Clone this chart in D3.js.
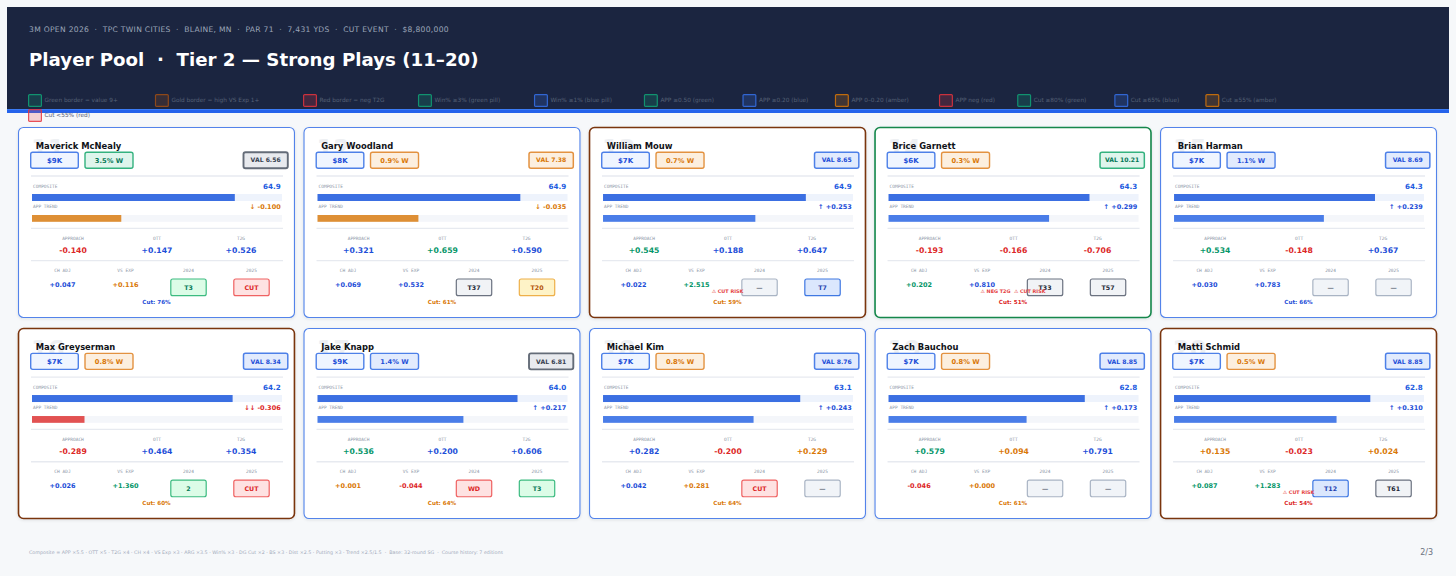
<!DOCTYPE html>
<html><head><meta charset="utf-8">
<script src="https://cdnjs.cloudflare.com/ajax/libs/d3/7.8.5/d3.min.js"></script>
<style>
html,body{margin:0;padding:0;background:#f6f8fa;}
svg{display:block;font-family:"DejaVu Sans",sans-serif;}
.mono{font-family:"DejaVu Sans Mono",monospace;}
</style>
</head><body><svg id="c" width="1456" height="576"></svg>
<script>
// ---------------- DATA ----------------
const eventInfo = "3M OPEN 2026  ·  TPC TWIN CITIES  ·  BLAINE, MN  ·  PAR 71  ·  7,431 YDS  ·  CUT EVENT  ·  $8,800,000";
const pageTitle = "Player Pool  ·  Tier 2 — Strong Plays (11–20)";
const legendLabels = ["Green border = value 9+","Gold border = high VS Exp 1+","Red border = neg T2G","Win% ≥3% (green pill)","Win% ≥1% (blue pill)","APP ≥0.50 (green)","APP ≥0.20 (blue)","APP 0–0.20 (amber)","APP neg (red)","Cut ≥80% (green)","Cut ≥65% (blue)","Cut ≥55% (amber)","Cut <55% (red)"];
const legendTones = ["green","gold","red","green","blue","green","blue","amber","red","green","blue","amber","red"];
const footerText = "Composite = APP ×5.5 · OTT ×5 · T2G ×4 · CH ×4 · VS Exp ×3 · ARG ×3.5 · Win% ×3 · DG Cut ×2 · BS ×3 · Dist ×2.5 · Putting ×3 · Trend ×2.5/1.5  ·  Base: 32-round SG  ·  Course history: 7 editions";
const pageLabel = "2/3";

const ranks    = [11,12,13,14,15,16,17,18,19,20];
const names    = ["Maverick McNealy","Gary Woodland","William Mouw","Brice Garnett","Brian Harman","Max Greyserman","Jake Knapp","Michael Kim","Zach Bauchou","Matti Schmid"];
const salaries = ["$9K","$8K","$7K","$6K","$7K","$7K","$9K","$7K","$7K","$7K"];
const winPct   = [3.5,0.9,0.7,0.3,1.1,0.8,1.4,0.8,0.8,0.5];
const values   = [6.56,7.38,8.65,10.21,8.69,8.34,6.81,8.76,8.85,8.85];
const composite= [64.9,64.9,64.9,64.3,64.3,64.2,64.0,63.1,62.8,62.8];
const appTrend = [-0.100,-0.035,0.253,0.299,0.239,-0.306,0.217,0.243,0.173,0.310];
const approach = [-0.140,0.321,0.545,-0.193,0.534,-0.289,0.536,0.282,0.579,0.135];
const ott      = [0.147,0.659,0.188,-0.166,-0.148,0.464,0.200,-0.200,0.094,-0.023];
const t2g      = [0.526,0.590,0.647,-0.706,0.367,0.354,0.606,0.229,0.791,0.024];
const chAdj    = [0.047,0.069,0.022,0.202,0.030,0.026,0.001,0.042,-0.046,0.087];
const vsExp    = [0.116,0.532,2.515,0.810,0.783,1.360,-0.044,0.281,0.000,1.283];
const fin2024  = ["T3","T37","—","T33","—","2","WD","CUT","—","T12"];
const fin2025  = ["CUT","T20","T7","T57","—","CUT","T3","—","—","T61"];
const cutPct   = [76,61,59,51,66,60,64,64,61,54];
const statLabels = ["APPROACH","OTT","T2G"];
const histLabels = ["CH ADJ","VS EXP","2024","2025"];

// ---------------- STYLE ----------------
const TXT = {green:"#059669", blue:"#1d4ed8", amber:"#d97706", red:"#dc2626", gray:"#374151"};
const PILL = {
  green:{fill:"#dff5ec",stroke:"#34b27f",text:"#047857"},
  blue:{fill:"#e2ebfd",stroke:"#4d80e8",text:"#1d4ed8"},
  amber:{fill:"#fcefdf",stroke:"#e39240",text:"#d97706"},
  gray:{fill:"#e8eaee",stroke:"#646c78",text:"#374151"},
  money:{fill:"#eff5ff",stroke:"#4d80e8",text:"#1d4ed8"}
};
const BOX = {
  green:{fill:"#dcfce7",stroke:"#3cbb80",text:"#047857"},
  blue:{fill:"#dbe7fd",stroke:"#3f78e2",text:"#1e40af"},
  amber:{fill:"#fef3c7",stroke:"#eeb04a",text:"#b45309"},
  gray:{fill:"#f1f3f6",stroke:"#6b7280",text:"#1f2937"},
  red:{fill:"#fee2e2",stroke:"#ef6262",text:"#dc2626"},
  none:{fill:"#f1f4f8",stroke:"#a9b4c4",text:"#6b7280"}
};
const LEG = {green:"#10a377", gold:"#a04e14", red:"#e5343d", blue:"#3571ea", amber:"#d97706"};
const BORDER = {green:"#15874b", gold:"#7a3510", red:"#dc2626", blue:"#5283ea"};

const tier = (v, g, b) => v >= g ? "green" : v >= b ? "blue" : v >= 0 ? "amber" : "red";
const statTiers = [v=>tier(v,0.5,0.2), v=>tier(v,0.5,0.1), v=>tier(v,1.0,0.3)];
const histTiers = [v=>tier(v,0.08,0.02), v=>tier(v,1.0,0.5)];
const winTier = v => v>=3 ? "green" : v>=1 ? "blue" : "amber";
const valTier = v => v>=9 ? "green" : v>=8 ? "blue" : v>=7 ? "amber" : "gray";
const cutTier = v => v>=80 ? "green" : v>=65 ? "blue" : v>=55 ? "amber" : "red";
const trendTier = v => v < -0.2 ? "red" : v < 0 ? "amber" : "blue";
const trendArrow = v => v < -0.2 ? "↓↓" : v < 0 ? "↓" : "↑";
function finTier(f){
  if (f === "—") return "none";
  if (f === "CUT" || f === "WD") return "red";
  const n = +f.replace("T","");
  return n <= 5 ? "green" : n <= 15 ? "blue" : n <= 25 ? "amber" : "gray";
}
function borderTier(i){
  if (values[i] >= 9) return "green";
  if (vsExp[i] >= 1) return "gold";
  if (t2g[i] < 0) return "red";
  return "blue";
}
const loc = d3.formatLocale({decimal:".",thousands:",",grouping:[3],currency:["$",""],minus:"-"});
const f3 = loc.format("+.3f"), f1 = loc.format(".1f");

// ---------------- DRAW ----------------
const svg = d3.select("#c");
const defs = svg.append("defs");
const sh = defs.append("filter").attr("id","sh").attr("x","-5%").attr("y","-5%").attr("width","110%").attr("height","115%");
sh.append("feDropShadow").attr("dx",0).attr("dy",1).attr("stdDeviation",1.4).attr("flood-color","#1e293b").attr("flood-opacity",0.10);

svg.append("rect").attr("width",1456).attr("height",576).attr("fill","#f6f8fa");

// header
svg.append("rect").attr("x",7).attr("y",7).attr("width",1442).attr("height",104).attr("fill","#1b2540");
svg.append("rect").attr("x",7).attr("y",109).attr("width",1442).attr("height",4).attr("fill","#2563eb");
svg.append("rect").attr("x",7).attr("y",109).attr("width",1442).attr("height",1).attr("fill","#3b7bf5");
svg.append("text").attr("x",29).attr("y",31.5).attr("fill","#9ca6b9").attr("font-size",7.6).attr("letter-spacing",0.3).style("white-space","pre").text(eventInfo);
svg.append("text").attr("x",29).attr("y",66).attr("fill","#ffffff").attr("font-size",18.2).attr("font-weight","bold").style("white-space","pre").text(pageTitle);

// legend (flex-wrap style)
const measure = svg.append("text").attr("font-size",8.4).attr("visibility","hidden");
let lx = 28, ly = 94;
const legendG = svg.append("g");
legendLabels.forEach((lab,i)=>{
  measure.text(lab);
  const w = 14 + 4 + measure.node().getComputedTextLength() + 3;
  if (lx + w > 1385) { lx = 28; ly += 15; }
  const c = LEG[legendTones[i]];
  const g = legendG.append("g").attr("transform",`translate(${lx},${ly})`);
  g.append("rect").attr("x",0.6).attr("y",0.6).attr("width",12.8).attr("height",11.8).attr("rx",1)
    .attr("fill",c).attr("fill-opacity",0.2).attr("stroke",c).attr("stroke-opacity",0.85).attr("stroke-width",1.2);
  g.append("text").attr("x",16.5).attr("y",8.2).attr("font-size",5.8).attr("fill","#566176").text(lab);
  lx += w;
});
measure.remove();

// cards
const cols = d3.scaleBand().domain(d3.range(5)).range([18,1437]).paddingInner(0.03);
const rows = d3.scaleBand().domain(d3.range(2)).range([127,519]).paddingInner(0.05);
const compX = d3.scaleLinear().domain([0,80]).range([0,250]);
const trendX = d3.scaleLinear().domain([-0.6,0.8]).range([0,250]);
const statX = d3.scaleBand().domain(statLabels).range([13,265]);
const histX = d3.scaleBand().domain(histLabels).range([13,265]);

function pill(g,x,y,w,h,st,txt,fs,sw){
  g.append("rect").attr("x",x).attr("y",y).attr("width",w).attr("height",h).attr("rx",2)
    .attr("fill",st.fill).attr("stroke",st.stroke).attr("stroke-width",sw||1.4);
  g.append("text").attr("x",x+w/2).attr("y",y+h/2+fs*0.36).attr("text-anchor","middle")
    .attr("font-size",fs).attr("font-weight","bold").attr("fill",st.text).text(txt);
}

names.forEach((name,i)=>{
  const W = cols.bandwidth(), H = rows.bandwidth();
  const g = svg.append("g").attr("transform",`translate(${cols(i%5)},${rows(Math.floor(i/5))})`);
  const bt = borderTier(i);
  g.append("rect").attr("x",0.5).attr("y",0.5).attr("width",W-1).attr("height",H-1).attr("rx",5)
    .attr("fill","#ffffff").attr("stroke",BORDER[bt]).attr("stroke-width",bt==="blue"?1.1:1.6).attr("filter","url(#sh)");
  // rank watermark (faint, mostly hidden behind name and pills)
  g.append("text").attr("x",13).attr("y",30).attr("font-size",24).attr("font-weight","bold").attr("fill","#eef0f3").text(ranks[i]);
  // name
  g.append("text").attr("x",17.7).attr("y",22).attr("font-size",8.4).attr("font-weight","bold").attr("fill","#111318").text(name);
  // pills
  pill(g,12.7,25.3,47.6,16,PILL.money,salaries[i],7);
  pill(g,67,25.3,48,16,PILL[winTier(winPct[i])],winPct[i].toFixed(1)+"% W",6.7);
  const vt = valTier(values[i]);
  pill(g,225.5,25.3,44.3,16,PILL[vt],"VAL "+values[i].toFixed(2),6.1, vt==="gray"?1.9:1.5);
  // separators
  [49,101.3,133.7].forEach(y=>g.append("line").attr("x1",13).attr("x2",265).attr("y1",y).attr("y2",y).attr("stroke","#e7eaf0").attr("stroke-width",1.3));
  // composite
  g.append("text").attr("class","mono").attr("x",15).attr("y",61.3).attr("font-size",4.5).attr("fill","#8b95a6").text("COMPOSITE");
  g.append("text").attr("x",262.7).attr("y",62).attr("text-anchor","end").attr("font-size",7.2).attr("font-weight","bold").attr("fill","#1d5be0").text(f1(composite[i]));
  g.append("rect").attr("x",14).attr("y",67).attr("width",compX(80)).attr("height",7).attr("fill","#eef3fc");
  g.append("rect").attr("x",14).attr("y",67).attr("width",compX(composite[i])).attr("height",7).attr("fill","#3b6fe2");
  // trend
  const tt = trendTier(appTrend[i]);
  g.append("text").attr("class","mono").attr("x",15).attr("y",81.3).attr("font-size",4.5).attr("fill","#8b95a6").text("APP TREND");
  g.append("text").attr("x",262.7).attr("y",82.2).attr("text-anchor","end").attr("font-size",6.5).attr("font-weight","bold").attr("fill",TXT[tt]).text(trendArrow(appTrend[i])+" "+f3(appTrend[i]));
  g.append("rect").attr("x",14).attr("y",88).attr("width",trendX(0.8)).attr("height",6.8).attr("fill","#f4f6fa");
  g.append("rect").attr("x",14).attr("y",88).attr("width",trendX(appTrend[i])).attr("height",6.8)
    .attr("fill", tt==="blue"?"#4a7de8": tt==="amber"?"#de8f35":"#e25252");
  // stats
  const sv = [approach[i],ott[i],t2g[i]];
  statLabels.forEach((lab,k)=>{
    const cx = statX(lab)+statX.bandwidth()/2;
    g.append("text").attr("class","mono").attr("x",cx).attr("y",112.7).attr("text-anchor","middle").attr("font-size",4.5).attr("fill","#8b95a6").text(lab);
    g.append("text").attr("x",cx).attr("y",126.3).attr("text-anchor","middle").attr("font-size",7.7).attr("font-weight","bold").attr("fill",TXT[statTiers[k](sv[k])]).text(f3(sv[k]));
  });
  // history
  const hv = [chAdj[i],vsExp[i]];
  const fins = [fin2024[i],fin2025[i]];
  histLabels.forEach((lab,k)=>{
    const cx = histX(lab)+histX.bandwidth()/2;
    g.append("text").attr("class","mono").attr("x",cx).attr("y",145.3).attr("text-anchor","middle").attr("font-size",4.5).attr("fill","#8b95a6").text(lab);
    if (k<2){
      g.append("text").attr("x",cx).attr("y",160.3).attr("text-anchor","middle").attr("font-size",6.5).attr("font-weight","bold").attr("fill",TXT[histTiers[k](hv[k])]).text(f3(hv[k]));
    } else {
      const f = fins[k-2];
      pill(g,cx-17.7,152,35.4,16.7,BOX[finTier(f)],f,6.3,1.2);
    }
  });
  // flags
  const flags = [];
  if (t2g[i] < 0) flags.push("⚠ NEG T2G");
  if (cutPct[i] < 60) flags.push("⚠ CUT RISK");
  if (flags.length) g.append("text").attr("x",W/2).attr("y",165.7).attr("text-anchor","middle").attr("font-size",4.9).attr("font-weight","bold").attr("fill","#e53e3e").style("white-space","pre").text(flags.join("  "));
  g.append("text").attr("x",W/2).attr("y",177.3).attr("text-anchor","middle").attr("font-size",5.6).attr("font-weight","bold").attr("fill",TXT[cutTier(cutPct[i])]).text("Cut: "+cutPct[i]+"%");
});

// footer
svg.append("text").attr("x",29).attr("y",554).attr("font-size",4.8).attr("fill","#a3abba").style("white-space","pre").text(footerText);
svg.append("text").attr("x",1433).attr("y",555).attr("text-anchor","end").attr("font-size",8).attr("fill","#6b7280").text(pageLabel);
</script>
</body></html>
